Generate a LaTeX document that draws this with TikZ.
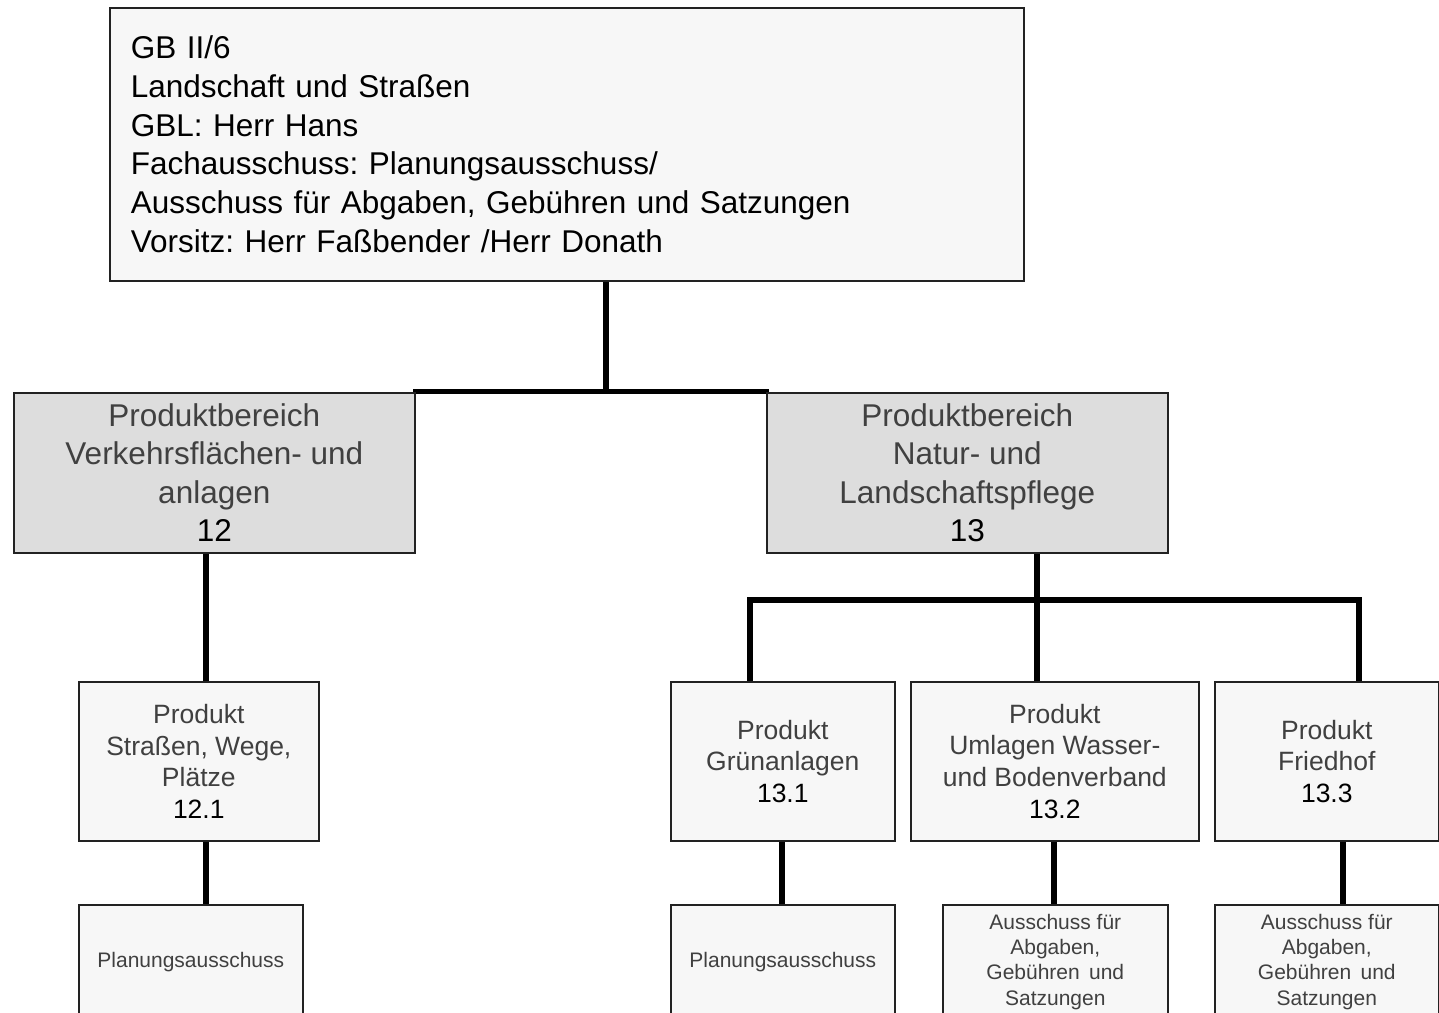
\documentclass[tikz,border=0pt]{standalone}
\usepackage{fontspec}
\setmainfont{Liberation Sans}
\usetikzlibrary{backgrounds}
\definecolor{boxfill}{HTML}{F7F7F7}
\definecolor{pbfill}{HTML}{DDDDDD}
\definecolor{txtgray}{HTML}{404040}
\definecolor{edge}{HTML}{222222}
\frenchspacing
\begin{document}
\begin{tikzpicture}[x=1pt,y=-1pt,
  box/.style={draw=edge, line width=1.6pt, rectangle, inner sep=0pt, align=center, anchor=north west, fill=boxfill},
  pbbox/.style={box, fill=pbfill, text=txtgray, font={\fontsize{31.5}{38.5}\selectfont}},
  prodbox/.style={box, text=txtgray, font={\fontsize{26.5}{31.7}\selectfont}},
  subbox/.style={box, text=txtgray, font={\fontsize{21}{25.2}\selectfont}},
  conn/.style={line width=5.5pt, line cap=rect, line join=miter, draw=black}]
\useasboundingbox (0,0) rectangle (1439,1012);

\node[box, align=left, minimum width=914, minimum height=273, text width=872, inner xsep=21,
  font={\fontsize{31.5}{38.8}\selectfont}] (top) at (109,7)
  {GB II/6\\Landschaft und Straßen\\GBL: Herr Hans\\Fachausschuss: Planungsausschuss/\\Ausschuss für Abgaben, Gebühren und Satzungen\\Vorsitz: Herr Faßbender /Herr Donath};

\node[pbbox, minimum width=401, minimum height=160] (pb12) at (13,392)
  {Produktbereich\\Verkehrsflächen- und\\anlagen\\\textcolor{black}{12}};
\node[pbbox, minimum width=401, minimum height=160] (pb13) at (766,392)
  {Produktbereich\\Natur- und\\Landschaftspflege\\\textcolor{black}{13}};

\node[prodbox, minimum width=240, minimum height=159] (p121) at (78,681)
  {Produkt\\Straßen, Wege,\\Plätze\\\textcolor{black}{12.1}};
\node[prodbox, minimum width=224, minimum height=159] (p131) at (670,681)
  {Produkt\\Grünanlagen\\\textcolor{black}{13.1}};
\node[prodbox, minimum width=288, minimum height=159] (p132) at (910,681)
  {Produkt\\Umlagen Wasser-\\und Bodenverband\\\textcolor{black}{13.2}};
\node[prodbox, minimum width=224, minimum height=159] (p133) at (1214,681)
  {Produkt\\Friedhof\\\textcolor{black}{13.3}};

\node[subbox, minimum width=224, minimum height=114] (s121) at (78,904) {Planungsausschuss};
\node[subbox, minimum width=224, minimum height=114] (s131) at (670,904) {Planungsausschuss};
\node[subbox, minimum width=225, minimum height=114] (s132) at (942,904)
  {Ausschuss für\\Abgaben,\\Gebühren\, und\\Satzungen};
\node[subbox, minimum width=224, minimum height=114] (s133) at (1214,904)
  {Ausschuss für\\Abgaben,\\Gebühren\, und\\Satzungen};

\coordinate (x606) at (606,0);
\coordinate (x206) at (206,0);
\coordinate (x1037) at (1037,0);
\coordinate (x750) at (750,0);
\coordinate (x1359) at (1359,0);
\coordinate (x782) at (782,0);
\coordinate (x1054) at (1054,0);
\coordinate (x1343) at (1343,0);
\coordinate (bus) at (0,600);

\begin{scope}[on background layer]
\fill[white] (0,0) rectangle (1439,1012);
\draw[conn] (top.south -| x606) -- ([yshift=0.5pt]pb12.north -| x606);
\draw[conn] ([yshift=0.5pt]pb12.north east) -- ([yshift=0.5pt]pb13.north west);
\draw[conn] (pb12.south -| x206) -- (p121.north -| x206);
\draw[conn] (pb13.south -| x1037) -- (p132.north -| x1037);
\draw[conn] (p131.north -| x750) -- (bus -| x750) -- (bus -| x1359) -- (p133.north -| x1359);
\draw[conn] (p121.south -| x206) -- (s121.north -| x206);
\draw[conn] (p131.south -| x782) -- (s131.north -| x782);
\draw[conn] (p132.south -| x1054) -- (s132.north -| x1054);
\draw[conn] (p133.south -| x1343) -- (s133.north -| x1343);
\end{scope}
\end{tikzpicture}
\end{document}
